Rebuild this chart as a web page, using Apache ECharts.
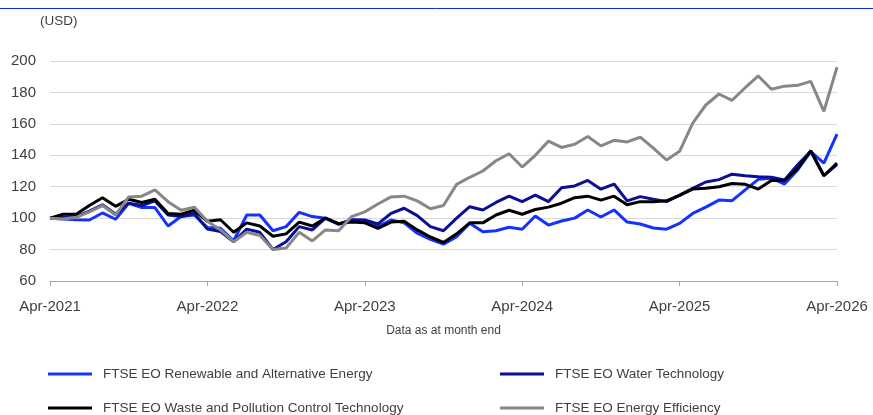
<!DOCTYPE html>
<html>
<head>
<meta charset="utf-8">
<script src="https://cdn.jsdelivr.net/npm/echarts@6/dist/echarts.min.js"></script>
<style>
  html, body { margin: 0; padding: 0; background: #fff; }
  #chart { width: 873px; height: 415px; }
</style>
</head>
<body>
<div id="chart"></div>
<script>
// month-end dates, Apr-2021 .. Apr-2026
var monthNames = ['Jan','Feb','Mar','Apr','May','Jun','Jul','Aug','Sep','Oct','Nov','Dec'];
var months = [];
for (var k = 0; k <= 60; k++) {
    var m = (3 + k) % 12;
    var y = 2021 + Math.floor((3 + k) / 12);
    months.push(monthNames[m] + '-' + y);
}

var yTicks = [60, 80, 100, 120, 140, 160, 180, 200];

var renewable = [100, 99.5, 99, 98.8, 103.3, 99.3, 109.4, 106.7, 106.7, 95, 101, 102, 94, 93.5, 85.6, 102, 102, 92, 94.6, 103.7,
    101, 100, 96, 99, 98.5, 94.6, 98.8, 97, 90.4, 86.5, 83.5, 88.2, 96.8, 91.4, 92, 94.2, 92.9, 101.4, 95.6, 98.2,
    100, 105.2, 100.7, 105.2, 97.5, 96.3, 93.7, 93, 96.7, 103, 107, 111.5, 111.1, 118, 124.7, 125.4, 121.7, 130.7, 142.3, 135,
    153.5];
var water = [100, 100.5, 101, 104.5, 108.5, 102.5, 109.5, 108, 111, 102, 101, 103, 93, 91.5, 85, 93, 91, 80, 85, 94.6,
    92.5, 100, 96.3, 98.8, 98.8, 96.3, 103, 106.3, 101.6, 94.6, 92, 100, 107.3, 105.2, 110, 114, 110.5, 114.7, 110.5, 119.4,
    120.5, 124, 118.4, 121.7, 111, 113.7, 112, 110.5, 114.7, 119, 123, 124.5, 128, 127, 126.4, 126, 124.3, 134, 142.5, 127,
    134];
var waste = [100, 102.5, 102.5, 108, 113, 107.5, 112, 110, 112, 103, 102.5, 105, 98, 99, 91, 97, 95, 88.5, 90, 97.5,
    95, 100, 96.5, 97.5, 97, 93.5, 97.5, 98, 92.5, 88, 84.5, 90, 97, 97, 102, 105, 102.5, 105.5, 107, 109.5,
    113, 114, 111.5, 114, 108.5, 110.5, 110.5, 111, 114.5, 118.5, 119, 120, 122, 121.5, 118.5, 124, 124, 131.5, 143, 127,
    135];
var efficiency = [100, 99.5, 100.5, 104, 108, 102, 113.5, 114, 118, 110.5, 105, 107, 98, 92.5, 85, 91, 89, 80, 81, 91,
    85.5, 92.5, 92, 101, 104, 109, 113.5, 114, 111, 106, 108, 121.5, 126, 130, 136.5, 141, 132.5, 140, 149, 145,
    147, 152, 146, 149.5, 148.5, 151.5, 144.5, 137, 142.5, 160.5, 172, 179, 175, 183, 190.5, 182, 184, 184.5, 187, 168,
    196];

var names = [
    'FTSE EO Renewable and Alternative Energy',
    'FTSE EO Water Technology',
    'FTSE EO Waste and Pollution Control Technology',
    'FTSE EO Energy Efficiency'
];
var colors = ['#1432ff', '#0a0f96', '#000000', '#878787'];

var fontName = 'Liberation Sans, Arial, sans-serif';
var chart = echarts.init(document.getElementById('chart'));

function line(name, data, color) {
    return {
        name: name,
        type: 'line',
        data: data,
        showSymbol: false,
        symbol: 'none',
        lineStyle: { color: color, width: 3 },
        itemStyle: { color: color }
    };
}

// one legend per item so the two columns line up like the original
function legendItem(name, left, top) {
    return {
        left: left, top: top,
        icon: 'rect', itemWidth: 44, itemHeight: 3, itemGap: 0,
        data: [name],
        textStyle: { color: '#404040', fontSize: 13.5, fontFamily: fontName, padding: [0, 0, 0, 6] }
    };
}

chart.setOption({
    animation: false,
    backgroundColor: '#fff',
    textStyle: { fontFamily: fontName },
    grid: { left: 50, right: 36, top: 61, bottom: 134 },
    graphic: [
        { type: 'line', shape: { x1: 0, y1: 8.5, x2: 873, y2: 8.5 }, style: { stroke: '#0a28f0', lineWidth: 1 } },
        { type: 'text', left: 40, top: 14, style: { text: '(USD)', fill: '#404040', font: '13.5px ' + fontName } }
    ],
    legend: [
        legendItem(names[0], 43, 362),
        legendItem(names[2], 43, 396),
        legendItem(names[1], 495, 362),
        legendItem(names[3], 495, 396)
    ],
    xAxis: {
        type: 'category',
        data: months,
        boundaryGap: false,
        name: 'Data as at month end',
        nameLocation: 'middle',
        nameGap: 44,
        nameTextStyle: { color: '#404040', fontSize: 12 },
        axisLine: { lineStyle: { color: '#a6a6a6', width: 1 } },
        axisTick: { interval: 11, length: 5, lineStyle: { color: '#a6a6a6' } },
        axisLabel: { interval: 11, color: '#404040', fontSize: 15, margin: 18 },
        splitLine: { show: false }
    },
    yAxis: {
        type: 'value',
        min: yTicks[0],
        max: yTicks[yTicks.length - 1],
        interval: 20,
        axisLine: { show: false },
        axisTick: { show: false },
        axisLabel: { color: '#404040', fontSize: 15, margin: 14 },
        splitLine: { lineStyle: { color: '#d9d9d9', width: 1 } }
    },
    series: [
        line(names[0], renewable, colors[0]),
        line(names[1], water, colors[1]),
        line(names[2], waste, colors[2]),
        line(names[3], efficiency, colors[3])
    ]
});
</script>
</body>
</html>
